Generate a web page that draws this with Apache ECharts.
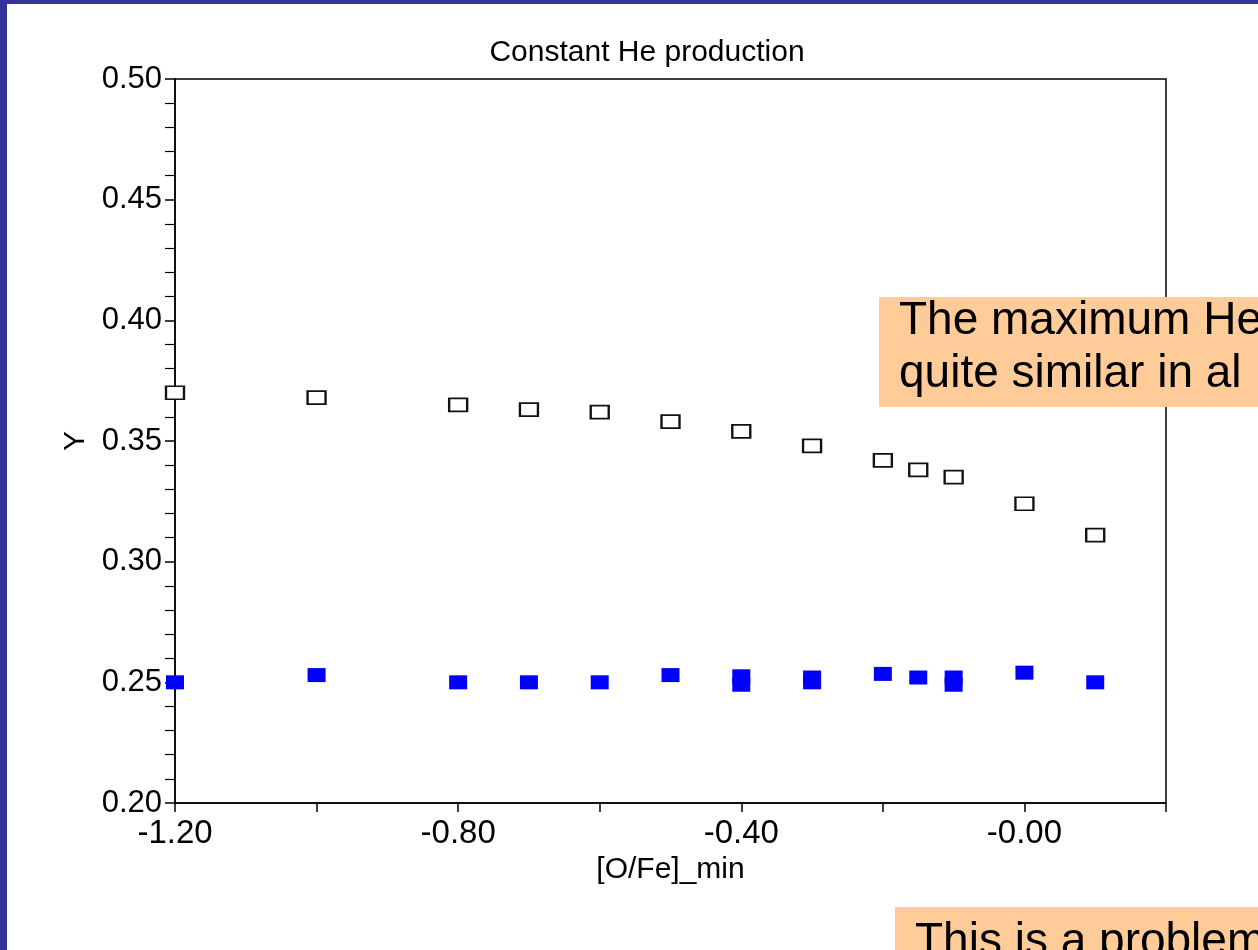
<!DOCTYPE html>
<html>
<head>
<meta charset="utf-8">
<script src="https://cdn.jsdelivr.net/npm/echarts@6/dist/echarts.min.js"></script>
<style>
html,body{margin:0;padding:0;background:#fff;}
#chart{width:1258px;height:950px;}
</style>
</head>
<body>
<div id="chart"></div>
<script>
var titleText = 'Constant He production';
var xAxisName = '[O/Fe]_min';
var yAxisName = 'Y';
var xTickLabels = ['-1.20', '', '-0.80', '', '-0.40', '', '-0.00', ''];

var xHollow = [-1.20, -1.00, -0.80, -0.70, -0.60, -0.50, -0.40, -0.30, -0.20, -0.15, -0.10, 0.00, 0.10];
var yHollow = [0.370, 0.368, 0.365, 0.363, 0.362, 0.358, 0.354, 0.348, 0.342, 0.338, 0.335, 0.324, 0.311];

var xFilled = [-1.20, -1.00, -0.80, -0.70, -0.60, -0.50, -0.40, -0.40, -0.30, -0.30, -0.20, -0.15, -0.10, -0.10, 0.00, 0.10];
var yFilled = [0.250, 0.253, 0.250, 0.250, 0.250, 0.253, 0.2525, 0.249, 0.252, 0.250, 0.2535, 0.252, 0.252, 0.249, 0.254, 0.250];

var note1Lines = ['The maximum He', 'quite similar in al'];
var note2Lines = ['This is a problem'];

function pairs(xs, ys) {
  var out = [];
  for (var i = 0; i < xs.length; i++) out.push([xs[i], ys[i]]);
  return out;
}

var FONT = '"Liberation Sans", Arial, sans-serif';
var chart = echarts.init(document.getElementById('chart'));
chart.setOption({
  backgroundColor: '#ffffff',
  animation: false,
  title: {
    text: titleText,
    left: 642,
    textAlign: 'center',
    top: 33,
    textStyle: {fontFamily: FONT, fontSize: 30, fontWeight: 'normal', color: '#000'}
  },
  grid: {
    left: 175, right: 92, top: 79, bottom: 147,
    show: true, borderColor: '#000', borderWidth: 1.5, backgroundColor: 'transparent'
  },
  xAxis: {
    type: 'value',
    min: -1.2, max: 0.2, interval: 0.2,
    name: xAxisName,
    nameLocation: 'middle',
    nameGap: 52,
    nameTextStyle: {fontFamily: FONT, fontSize: 30, color: '#000'},
    axisLine: {show: true, onZero: false, lineStyle: {color: '#000', width: 1.5}},
    axisTick: {show: true, inside: false, length: 9, lineStyle: {color: '#000', width: 1.5}},
    splitLine: {show: false},
    axisLabel: {
      fontFamily: FONT, fontSize: 33, color: '#000', margin: 14,
      formatter: function (v) {
        var idx = Math.round((v + 1.2) / 0.2);
        return xTickLabels[idx] || '';
      }
    }
  },
  yAxis: {
    type: 'value',
    min: 0.2, max: 0.5, interval: 0.05,
    name: yAxisName,
    nameLocation: 'middle',
    nameGap: 84,
    nameTextStyle: {fontFamily: FONT, fontSize: 30, color: '#000'},
    axisLine: {show: true, onZero: false, lineStyle: {color: '#000', width: 1.5}},
    axisTick: {show: true, inside: false, length: 10, lineStyle: {color: '#000', width: 1.5}},
    minorTick: {show: true, splitNumber: 5, length: 10, lineStyle: {color: '#000', width: 1.2}},
    splitLine: {show: false},
    axisLabel: {
      fontFamily: FONT, fontSize: 31, color: '#000', margin: 13,
      formatter: function (v) { return v.toFixed(2); }
    }
  },
  series: [
    {
      type: 'scatter',
      data: pairs(xHollow, yHollow),
      symbol: 'rect',
      symbolSize: [18, 13],
      clip: false,
      itemStyle: {color: '#ffffff', borderColor: '#111', borderWidth: 2, opacity: 1}
    },
    {
      type: 'scatter',
      data: pairs(xFilled, yFilled),
      symbol: 'rect',
      symbolSize: [18, 14],
      clip: false,
      itemStyle: {color: '#0000ff', opacity: 1}
    }
  ],
  graphic: [
    {type: 'rect', left: 0, top: 0, z: 100, shape: {width: 7, height: 950}, style: {fill: '#333399'}},
    {type: 'rect', left: 0, top: 0, z: 100, shape: {width: 1258, height: 4}, style: {fill: '#333399'}},
    {type: 'rect', left: 879, top: 297, z: 100, shape: {width: 400, height: 110}, style: {fill: '#FFCC99'}},
    {type: 'text', left: 899, top: 298, z: 101, style: {text: note1Lines[0], font: '46px ' + FONT, fill: '#000'}},
    {type: 'text', left: 899, top: 351, z: 101, style: {text: note1Lines[1], font: '46px ' + FONT, fill: '#000'}},
    {type: 'rect', left: 895, top: 907, z: 100, shape: {width: 400, height: 100}, style: {fill: '#FFCC99'}},
    {type: 'text', left: 915, top: 919, z: 101, style: {text: note2Lines[0], font: '46px ' + FONT, fill: '#000'}}
  ]
});
</script>
</body>
</html>
